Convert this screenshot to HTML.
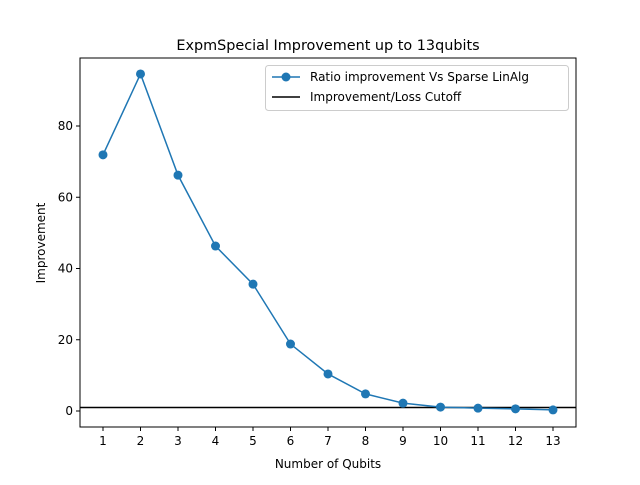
<!DOCTYPE html>
<html><head><meta charset="utf-8"><style>body{margin:0;background:#fff}svg{font-family:"DejaVu Sans","Liberation Sans",sans-serif}</style></head>
<body>
<svg id="c" width="640" height="480" xmlns="http://www.w3.org/2000/svg"></svg>
<script>
const categories=[1,2,3,4,5,6,7,8,9,10,11,12,13];
const ratioValues=[71.9,94.6,66.2,46.3,35.6,18.8,10.4,4.8,2.2,1.1,0.8,0.6,0.3];
const cutoffValue=1;
const yTicks=[0,20,40,60,80];
const L=80,R=576,T=58,B=427;
const xs=v=>103+(v-1)*37.5;
const ys=v=>411-v*3.5625;
const NS="http://www.w3.org/2000/svg";
const svg=document.getElementById('c');
function mk(tag,attrs,txt){const e=document.createElementNS(NS,tag);for(const k in attrs)e.setAttribute(k,attrs[k]);if(txt!==undefined)e.textContent=txt;svg.appendChild(e);return e;}
let e;
e=mk('rect',{x:L,y:T,width:R-L,height:B-T,fill:'none',stroke:'#000','stroke-width':1});


categories.forEach(c=>{
 e=mk('line',{x1:xs(c),x2:xs(c),y1:B,y2:B+4,stroke:'#000'});
 
 
 e=mk('text',{x:xs(c),y:B+18,'text-anchor':'middle','font-size':12},c);
 
 
});
yTicks.forEach(t=>{
 e=mk('line',{x1:L-4,x2:L,y1:ys(t),y2:ys(t),stroke:'#000'});
 
 
 e=mk('text',{x:L-7,y:ys(t)+4,'text-anchor':'end','font-size':12},t);
 
 
});
e=mk('line',{x1:L,x2:R,y1:ys(cutoffValue),y2:ys(cutoffValue),stroke:'#000','stroke-width':1.5});


e=mk('polyline',{points:categories.map((c,i)=>xs(c)+','+ys(ratioValues[i])).join(' '),fill:'none',stroke:'#1f77b4','stroke-width':1.5});


categories.forEach((c,i)=>{
 e=mk('circle',{cx:xs(c),cy:ys(ratioValues[i]),r:4.5,fill:'#1f77b4'});
 
 
});
e=mk('text',{x:328,y:50,'text-anchor':'middle','font-size':14.4},'ExpmSpecial Improvement up to 13qubits');


e=mk('text',{x:328,y:468,'text-anchor':'middle','font-size':12},'Number of Qubits');


e=mk('text',{x:45,y:243,'text-anchor':'middle','font-size':12,transform:'rotate(-90 45 243)'},'Improvement');


e=mk('rect',{x:265.5,y:65.5,width:303,height:45,rx:3,fill:'#fff','fill-opacity':0.8,stroke:'#ccc'});


e=mk('line',{x1:272,x2:300,y1:77,y2:77,stroke:'#1f77b4','stroke-width':1.5});


e=mk('circle',{cx:286,cy:77,r:4.5,fill:'#1f77b4'});


e=mk('text',{x:310,y:81,'font-size':12},'Ratio improvement Vs Sparse LinAlg');


e=mk('line',{x1:272,x2:300,y1:97,y2:97,stroke:'#000','stroke-width':1.5});


e=mk('text',{x:310,y:101,'font-size':12},'Improvement/Loss Cutoff');


</script>
</body></html>
